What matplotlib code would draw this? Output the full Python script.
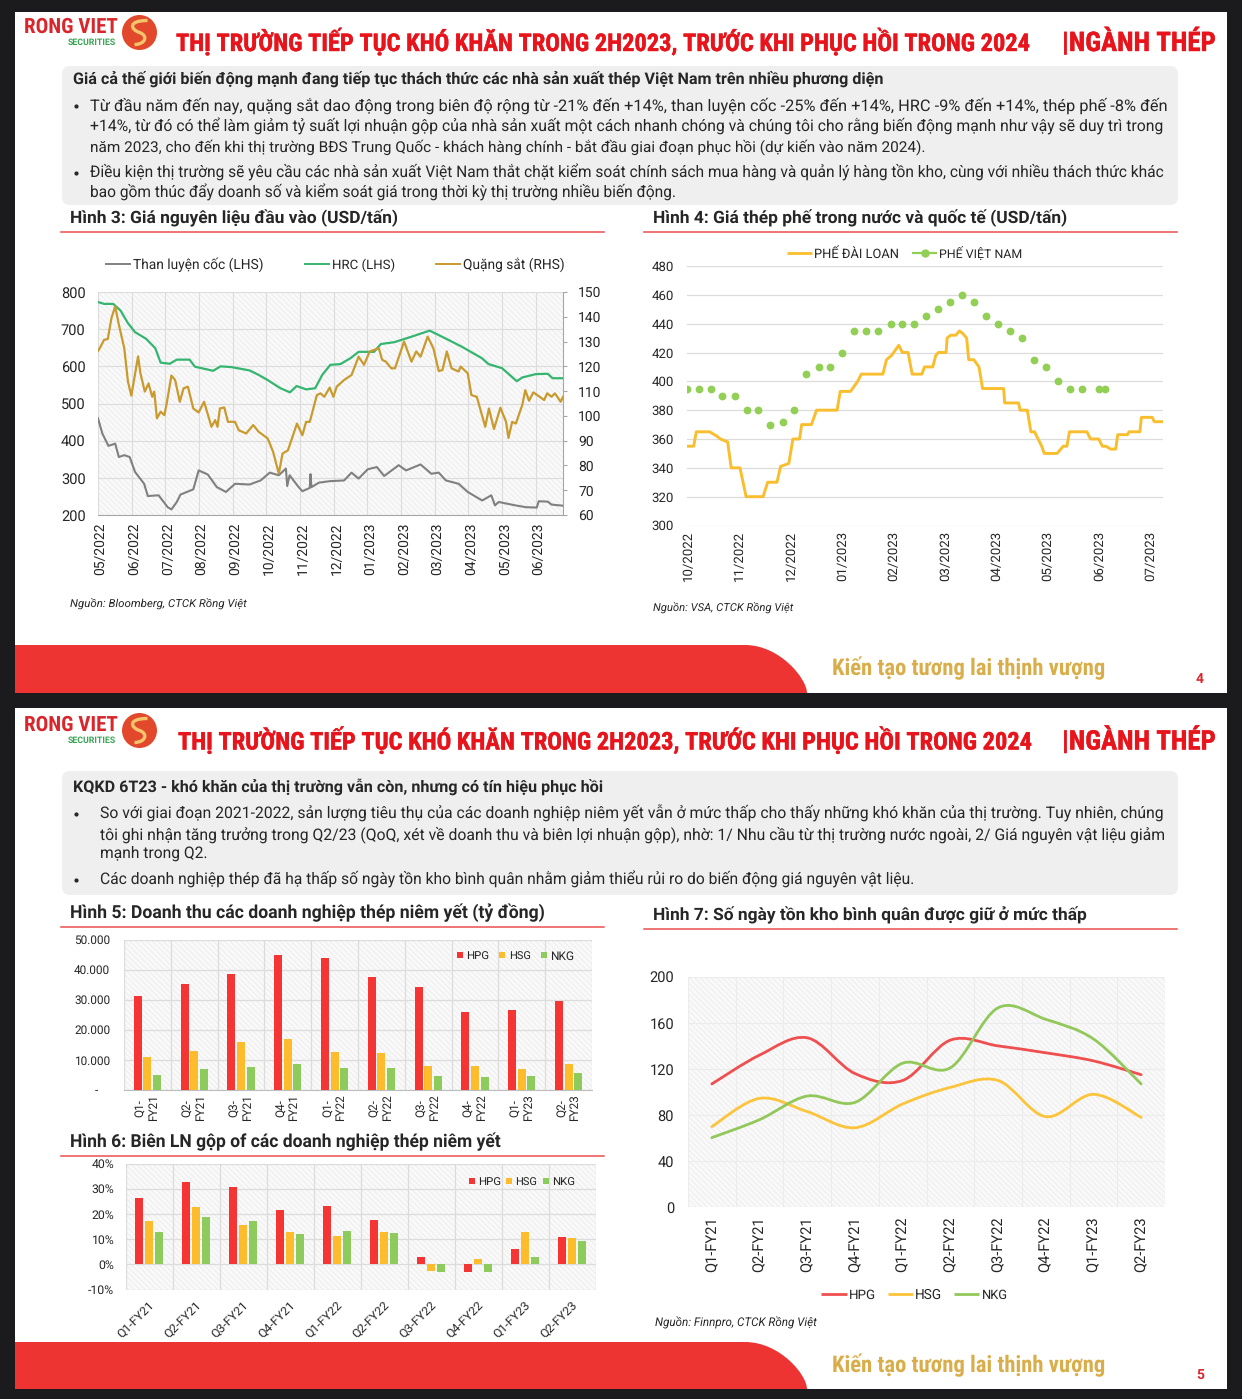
import numpy as np
import matplotlib
matplotlib.use('Agg')
import matplotlib.pyplot as plt
import matplotlib.patheffects as pe
from matplotlib import font_manager
from matplotlib.patches import FancyBboxPatch, PathPatch, Rectangle, Ellipse
from matplotlib.path import Path
from matplotlib.transforms import ScaledTranslation

W, H = 1242, 1399

# --------------------------------------------------------------------------
# Hinh 3 data, x is months after 05/2022
MONTHS_3 = ['05/2022', '06/2022', '07/2022', '08/2022', '09/2022', '10/2022', '11/2022',
            '12/2022', '01/2023', '02/2023', '03/2023', '04/2023', '05/2023', '06/2023']
coal_m = [0, .13, .31, .51, .62, .78, .94, 1.1, 1.37, 1.48, 1.8, 2.07, 2.18, 2.34, 2.45, 2.83,
          2.99, 3.26, 3.53, 3.8, 4.07, 4.5, 4.83, 5.1, 5.37, 5.58, 5.62, 5.69, 5.96, 6.07, 6.29,
          6.31, 6.34, 6.56, 6.88, 7.31, 7.53, 7.74, 8.01, 8.28, 8.5, 8.93, 9.15, 9.58, 9.9,
          10.12, 10.33, 10.71, 10.98, 11.41, 11.68, 11.79, 11.9, 12.39, 12.71, 13.03, 13.09,
          13.36, 13.47, 13.81]
coal_v = [460, 419, 386, 392, 356, 361, 356, 316, 284, 251, 253, 221, 215, 235, 255, 269,
          320, 309, 275, 262, 284, 282, 293, 314, 307, 325, 278, 307, 275, 264, 273,
          310, 275, 287, 291, 293, 314, 298, 323, 329, 305, 334, 320, 336, 311,
          314, 293, 284, 262, 239, 253, 226, 235, 226, 221, 220, 237,
          236, 228, 225]
hrc_m = [0, .18, .45, .67, .89, 1.1, 1.43, 1.7, 1.86, 2.13, 2.34, 2.72, 2.88, 3.42, 3.64, 3.96,
         4.5, 4.77, 5.04, 5.42, 5.7, 5.9, 6.18, 6.45, 6.66, 6.9, 7.2, 7.5, 7.74, 8.2, 8.4, 8.8,
         9.25, 9.85, 10.3, 10.8, 11.4, 11.6, 12.0, 12.44, 12.6, 13.0, 13.36, 13.5, 13.81]
hrc_v = [773, 768, 768, 750, 716, 692, 674, 649, 610, 607, 618, 618, 599, 588, 600, 598,
         589, 577, 563, 541, 530, 547, 538, 541, 577, 604, 606, 622, 639, 639, 660, 665,
         678, 696, 676, 653, 622, 606, 595, 560, 570, 579, 580, 568, 568]
ore_m = [0, .08, .18, .29, .4, .51, .62, .78, .89, .99, 1.07, 1.19, 1.26, 1.39, 1.5, 1.61, 1.67,
         1.75, 1.86, 1.97, 2.04, 2.18, 2.29, 2.43, 2.54, 2.67, 2.83, 2.99, 3.15, 3.37, 3.48, 3.55,
         3.62, 3.75, 3.86, 4.07, 4.18, 4.4, 4.61, 4.77, 5.04, 5.2, 5.37, 5.48, 5.64, 5.91, 6.07,
         6.18, 6.29, 6.5, 6.61, 6.72, 6.88, 6.99, 7.09, 7.31, 7.53, 7.74, 7.9, 8.07, 8.34, 8.44,
         8.55, 8.71, 8.82, 9.09, 9.31, 9.45, 9.58, 9.79, 9.96, 10.12, 10.23, 10.36, 10.5, 10.71,
         10.77, 10.98, 11.09, 11.25, 11.5, 11.61, 11.76, 11.95, 12.12, 12.19, 12.3, 12.41, 12.6,
         12.69, 12.8, 12.93, 13.25, 13.34, 13.47, 13.57, 13.74, 13.81]
ore_v = [126.2, 128, 130.7, 131, 139.5, 144.2, 136.8, 127.3, 113.8, 108.2, 114.5, 124, 117.2, 109.8,
         113.1, 107.7, 109.8, 99, 101.7, 100.3, 105, 116.3, 114.5, 105.7, 111.1, 111.8, 103, 101.4,
         105.7, 95.6, 98.3, 95.6, 103, 103.4, 97.6, 97.6, 94.2, 92.9, 96.3, 93.6, 90.9, 85.5, 76.7,
         84.8, 86.1, 96.9, 92.2, 97.6, 97.6, 108.4, 109.1, 107.7, 111.4, 107.7, 111.8, 114.5, 116.5,
         123.9, 120.6, 126, 127.3, 122.6, 121.9, 119.2, 119.2, 130, 121.9, 126, 123.9, 132, 127.3,
         118.1, 118.5, 126, 119.2, 117.9, 119.9, 117.2, 108.4, 107.7, 95.6, 103, 94.7, 103.3, 97.6,
         91.1, 97.6, 96.9, 104.4, 110.4, 106.1, 109.5, 106.4, 109.1, 107.7, 109.1, 105.7, 107.7]

# Hinh 4 data, x is months after 10/2022
MONTHS_4 = ['10/2022', '11/2022', '12/2022', '01/2023', '02/2023', '03/2023', '04/2023',
            '05/2023', '06/2023', '07/2023']
tw_m = [0, .14, .19, .45, .59, .66, .8, .87, 1.04, 1.16, 1.49, 1.58, 1.76, 1.83, 1.99, 2.07, 2.2,
        2.24, 2.43, 2.48, 2.53, 2.93, 2.99, 3.19, 3.33, 3.4, 3.82, 3.89, 3.99, 4.13, 4.2, 4.31,
        4.39, 4.58, 4.63, 4.79, 4.85, 4.9, 5.05, 5.07, 5.14, 5.24, 5.31, 5.38, 5.45, 5.49, 5.59,
        5.69, 5.76, 6.17, 6.19, 6.46, 6.49, 6.63, 6.7, 6.77, 6.91, 6.96, 7.21, 7.33, 7.4, 7.45,
        7.79, 7.86, 8.02, 8.09, 8.16, 8.25, 8.35, 8.39, 8.58, 8.61, 8.82, 8.85, 9.06, 9.1, 9.27]
tw_v = [355, 355, 365, 365, 362, 360, 358, 340, 340, 320, 320, 330, 330, 341, 343, 360, 360,
        370, 370, 375, 380, 380, 393, 393, 400, 405, 405, 415, 418, 425, 420, 420,
        405, 405, 410, 410, 418, 420, 420, 430, 432, 432, 435, 433, 430, 415, 415,
        410, 395, 395, 385, 385, 380, 380, 365, 365, 355, 350, 350, 355, 355, 365,
        365, 360, 360, 355, 355, 353, 353, 363, 363, 365, 365, 375, 375, 372, 372]
vn_m = [0, .24, .47, .70, .94, 1.17, 1.4, 1.63, 1.87, 2.1, 2.33, 2.57, 2.8, 3.03, 3.26, 3.49, 3.73,
        3.97, 4.2, 4.43, 4.66, 4.9, 5.13, 5.36, 5.6, 5.83, 6.06, 6.29, 6.53, 6.76, 6.99, 7.22,
        7.46, 7.69, 8.02, 8.15]
vn_v = [395, 395, 395, 390, 390, 380, 380, 370, 372, 380, 405, 410, 410, 420, 435, 435, 435,
        440, 440, 440, 445, 450, 455, 460, 455, 445, 440, 435, 430, 415, 410, 400,
        395, 395, 395, 395]

# Hinh 5, 6, 7 data
QUARTERS = ['Q1-FY21', 'Q2-FY21', 'Q3-FY21', 'Q4-FY21', 'Q1-FY22', 'Q2-FY22', 'Q3-FY22',
            'Q4-FY22', 'Q1-FY23', 'Q2-FY23']
rev_hpg = [31200, 35200, 38600, 44700, 44000, 37400, 34100, 25900, 26500, 29500]
rev_hsg = [11000, 13000, 15800, 16900, 12700, 12200, 8100, 8100, 7100, 8700]
rev_nkg = [4900, 7100, 7600, 8800, 7200, 7200, 4500, 4400, 4500, 5600]
gm_hpg = [26.4, 32.8, 30.8, 21.5, 23.1, 17.6, 3, -3.2, 6.2, 10.8]
gm_hsg = [17.3, 22.9, 15.6, 12.7, 11.2, 13, -2.8, 2, 13, 10.3]
gm_nkg = [12.7, 18.8, 17.2, 12, 13.4, 12.6, -3.2, -3.1, 3, 9.1]
inv_hpg = [107, 132, 147, 116, 110, 145, 140, 134, 127, 115]
inv_hsg = [70, 94.5, 83, 69, 89.6, 104, 110, 78.6, 98, 78]
inv_nkg = [60.4, 76, 96.5, 91, 125, 121, 173, 163, 146, 107]

TITLE = 'THỊ TRƯỜNG TIẾP TỤC KHÓ KHĂN TRONG 2H2023, TRƯỚC KHI PHỤC HỒI TRONG 2024'
SLIDE1_HEAD = 'Giá cả thế giới biến động mạnh đang tiếp tục thách thức các nhà sản xuất thép Việt Nam trên nhiều phương diện'
SLIDE1_LINES = [
    'Từ đầu năm đến nay, quặng sắt dao động trong biên độ rộng từ -21% đến +14%, than luyện cốc -25% đến +14%, HRC -9% đến +14%, thép phế -8% đến',
    '+14%, từ đó có thể làm giảm tỷ suất lợi nhuận gộp của nhà sản xuất một cách nhanh chóng và chúng tôi cho rằng biến động mạnh như vậy sẽ duy trì trong',
    'năm 2023, cho đến khi thị trường BĐS Trung Quốc - khách hàng chính - bắt đầu giai đoạn phục hồi (dự kiến vào năm 2024).',
    'Điều kiện thị trường sẽ yêu cầu các nhà sản xuất Việt Nam thắt chặt kiểm soát chính sách mua hàng và quản lý hàng tồn kho, cùng với nhiều thách thức khác',
    'bao gồm thúc đẩy doanh số và kiểm soát giá trong thời kỳ thị trường nhiều biến động.',
]
SLIDE2_HEAD = 'KQKD 6T23 - khó khăn của thị trường vẫn còn, nhưng có tín hiệu phục hồi'
SLIDE2_LINES = [
    'So với giai đoạn 2021-2022, sản lượng tiêu thụ của các doanh nghiệp niêm yết vẫn ở mức thấp cho thấy những khó khăn của thị trường. Tuy nhiên, chúng',
    'tôi ghi nhận tăng trưởng trong Q2/23 (QoQ, xét về doanh thu và biên lợi nhuận gộp), nhờ: 1/ Nhu cầu từ thị trường nước ngoài, 2/ Giá nguyên vật liệu giảm',
    'mạnh trong Q2.',
    'Các doanh nghiệp thép đã hạ thấp số ngày tồn kho bình quân nhằm giảm thiểu rủi ro do biến động giá nguyên vật liệu.',
]

installed = {f.name for f in font_manager.fontManager.ttflist}
BODY_FONT = ['Roboto', 'Noto Sans', 'DejaVu Sans']
NARROW_FONT = [n for n in ('Liberation Sans Narrow', 'Roboto Condensed', 'Noto Sans Condensed',
                           'Open Sans Condensed') if n in installed] + BODY_FONT
plt.rcParams['font.family'] = BODY_FONT
plt.rcParams['hatch.linewidth'] = 0.4
plt.rcParams['text.hinting'] = 'no_hinting'
RED = '#ee3333'
TITLE_RED = '#e8141c'
INK = '#262626'
GRID = '#dcdcdc'
C_HPG = '#f53434'
C_HSG = '#fdbc2c'
C_NKG = '#8ccb5c'

fig = plt.figure(figsize=(W / 100, H / 100), dpi=100, facecolor='#1b1b1d')
page = fig.add_axes([0, 0, 1, 1], zorder=0)
over = fig.add_axes([0, 0, 1, 1], zorder=5)
for a in (page, over):
    a.set_xlim(0, W)
    a.set_ylim(H, 0)
    a.axis('off')
over.patch.set_alpha(0)
renderer = fig.canvas.get_renderer()


def fit_text(x0, x1, y, s, size=10, **kw):
    # scale the font so the line spans x0 to x1 pixels, y is the baseline
    t = over.text(x0, y, s, fontsize=size, va='baseline', ha='left', **kw)
    best_size, best_err = size, 1e9
    for _ in range(8):
        w = t.get_window_extent(renderer).width
        err = abs(w - (x1 - x0))
        if err < best_err:
            best_size, best_err = t.get_fontsize(), err
        t.set_fontsize(t.get_fontsize() * (x1 - x0) / w)
    t.set_fontsize(best_size)
    return t


def chart_ax(x0, y0, x1, y1):
    ax = fig.add_axes([x0 / W, 1 - y1 / H, (x1 - x0) / W, (y1 - y0) / H], zorder=2)
    ax.set_facecolor('#f9f9f9')
    ax.patch.set_hatch('\\\\\\\\\\\\')
    ax.patch.set_edgecolor('#e6e6e6')
    ax.patch.set_linewidth(0)
    ax.tick_params(length=0, labelsize=10, colors=INK)
    for s in ax.spines.values():
        s.set_visible(False)
    ax.set_axisbelow(True)
    return ax


def nudge_xlabels(ax, px):
    # the tick labels sit a little right of their gridlines in the reference
    off = ScaledTranslation(px / 100, 0, fig.dpi_scale_trans)
    for lab in ax.get_xticklabels():
        lab.set_transform(lab.get_transform() + off)


def figure_title(x0, x1, y, rule_x0, rule_x1, rule_y, s):
    fit_text(x0, x1, y, s, size=12, fontweight='bold', color=INK)
    page.plot([rule_x0, rule_x1], [rule_y, rule_y], color='#ea5050', lw=1.1)


def key_line(x0, x1, y, color, x_text0, x_text1, label, lw=1.4, dot=False):
    over.plot([x0, x1], [y, y], color=color, lw=lw, solid_capstyle='butt')
    if dot:
        over.plot([(x0 + x1) / 2], [y], 'o', color=color, ms=5)
    fit_text(x_text0, x_text1, y + 5, label, size=10, color=INK)


def key_box(x0, x1, y, color, x_text0, x_text1, label):
    over.add_patch(Rectangle((x0, y - 3.2), x1 - x0, 6.4, fc=color, ec='none'))
    fit_text(x_text0, x_text1, y + 4.5, label, size=9, color=INK)


def logo(dy):
    fit_text(24, 118, 33 + dy, 'RONG VIET', size=14, fontweight='bold', color='#d8262c',
             family=NARROW_FONT)
    fit_text(68, 116, 45 + dy, 'SECURITIES', size=6, fontweight='bold', color='#3aa655')
    cx, cy = 139.5, 32.5 + dy
    page.add_patch(Ellipse((cx, cy), 35, 35, fc='#e2492c', ec='none'))
    swirl = Path([(cx + 8, cy - 12), (cx - 12, cy - 12), (cx - 9, cy - 3), (cx, cy),
                  (cx + 9, cy + 3), (cx + 6, cy + 12), (cx - 5, cy + 12)],
                 [Path.MOVETO, Path.CURVE4, Path.CURVE4, Path.CURVE4, Path.CURVE4, Path.CURVE4, Path.CURVE4])
    page.add_patch(PathPatch(swirl, fc='none', ec='#f4c56a', lw=2.4))


def slide(top, bottom, band_top, title_x0, title_x1, title_y, page_no, page_y):
    page.add_patch(Rectangle((15, top), 1212, bottom - top, fc='white', ec='none'))
    band = Path([(15, band_top), (745, band_top), (780, band_top), (807, bottom - 14), (807, bottom),
                 (15, bottom), (15, band_top)],
                [Path.MOVETO, Path.LINETO, Path.CURVE4, Path.CURVE4, Path.CURVE4, Path.LINETO, Path.CLOSEPOLY])
    page.add_patch(PathPatch(band, fc=RED, ec='none'))
    thick = [pe.withStroke(linewidth=0.3, foreground=TITLE_RED)]
    fit_text(title_x0, title_x1, title_y, TITLE, size=16, fontweight='bold', color=TITLE_RED,
             family=NARROW_FONT, path_effects=thick)
    fit_text(1062, 1216, title_y, '|NGÀNH THÉP', size=17, fontweight='bold', color=TITLE_RED,
             family=NARROW_FONT, path_effects=thick)
    fit_text(832, 1105, band_top + 30, 'Kiến tạo tương lai thịnh vượng', size=14, fontweight='bold',
             color='#d9ae4a', family=NARROW_FONT)
    over.text(1200, page_y, page_no, fontsize=10, fontweight='bold', color='#d8262c', ha='center', va='center')


def text_box(y0, y1, head, head_x1, head_y, lines, text_x0, spans, ys, bullets):
    page.add_patch(FancyBboxPatch((66, y0 + 4), 1108, y1 - y0 - 8, boxstyle='round,pad=4,rounding_size=8',
                                  fc='#efefef', ec='none'))
    fit_text(73, head_x1, head_y + 5, head, size=11, fontweight='bold', color=INK)
    for s, x1, y in zip(lines, spans, ys):
        fit_text(text_x0, x1, y + 5, s, size=12, color=INK)
    for y in bullets:
        over.plot([75.5], [y], 'o', color=INK, ms=2.0)


def smooth_line(ax, x, y, color, lw=2.0):
    # same smoothing as a spreadsheet line chart, bezier handles through the read values
    x = np.asarray(x, float)
    y = np.asarray(y, float)
    verts = [(x[0], y[0])]
    codes = [Path.MOVETO]
    for i in range(len(x) - 1):
        p0 = i - 1 if i > 0 else i
        p3 = i + 2 if i + 2 < len(x) else i + 1
        verts.append((x[i] + (x[i + 1] - x[p0]) / 6, y[i] + (y[i + 1] - y[p0]) / 6))
        verts.append((x[i + 1] - (x[p3] - x[i]) / 6, y[i + 1] - (y[p3] - y[i]) / 6))
        verts.append((x[i + 1], y[i + 1]))
        codes += [Path.CURVE4, Path.CURVE4, Path.CURVE4]
    ax.add_patch(PathPatch(Path(verts, codes), fc='none', ec=color, lw=lw, capstyle='round'))


def grouped_bars(ax, a, b, c):
    x = np.arange(len(a))
    ax.bar(x - 0.205, a, 0.17, color=C_HPG, zorder=3)
    ax.bar(x, b, 0.17, color=C_HSG, zorder=3)
    ax.bar(x + 0.205, c, 0.17, color=C_NKG, zorder=3)
    ax.set_xlim(-0.5, len(a) - 0.5)
    ax.set_xticks(np.arange(len(a) + 1) - 0.5, minor=True)
    ax.grid(True, which='minor', axis='x', color=GRID, lw=0.9)
    ax.grid(True, which='major', axis='y', color=GRID, lw=0.9)
    ax.tick_params(which='minor', length=0)
    return x


# --------------------------------------------------------------------------
# slide frames and text
slide(12, 693, 645, 176, 1031, 51, '4', 679)
slide(708, 1389, 1342, 178, 1033, 749.5, '5', 1376)
logo(0)
logo(698)

text_box(66, 205, SLIDE1_HEAD, 884, 79, SLIDE1_LINES, 90, [1166, 1166, 927, 1166, 677],
         [106, 127, 147, 173, 193], [106, 173])
text_box(771, 895, SLIDE2_HEAD, 603, 787, SLIDE2_LINES, 100, [1166, 1166, 208, 916],
         [814, 834, 853, 880], [814, 880])

figure_title(70, 398, 223, 61, 604, 232, 'Hình 3: Giá nguyên liệu đầu vào (USD/tấn)')
figure_title(653, 1068, 223, 644, 1177, 232, 'Hình 4: Giá thép phế trong nước và quốc tế (USD/tấn)')
figure_title(70, 545, 918, 61, 604, 927, 'Hình 5: Doanh thu các doanh nghiệp thép niêm yết (tỷ đồng)')
figure_title(70, 500, 1147, 61, 604, 1156, 'Hình 6: Biên LN gộp of các doanh nghiệp thép niêm yết')
figure_title(653, 1087, 920, 644, 1177, 929, 'Hình 7: Số ngày tồn kho bình quân được giữ ở mức thấp')

fit_text(70, 247, 608, 'Nguồn: Bloomberg, CTCK Rồng Việt', size=8, style='italic', color=INK)
fit_text(653, 794, 612, 'Nguồn: VSA, CTCK Rồng Việt', size=8, style='italic', color=INK)
fit_text(655, 816, 1326, 'Nguồn: Finnpro, CTCK Rồng Việt', size=8, style='italic', color=INK)

# --------------------------------------------------------------------------
# Hinh 3
ax3 = chart_ax(98, 292, 563, 515)
ax3.plot(coal_m, coal_v, color='#808080', lw=1.5, zorder=3)
ax3.plot(hrc_m, hrc_v, color='#35b56f', lw=1.6, zorder=3)
ax3.set_xlim(0, 13.81)
ax3.set_ylim(200, 800)
ax3.set_yticks(range(200, 801, 100))
ax3.set_xticks(range(len(MONTHS_3)))
ax3.set_xticklabels(MONTHS_3, rotation=90)
ax3.grid(True, color=GRID, lw=0.8)
ax3.tick_params(axis='y', pad=9, labelsize=10.5)
ax3.tick_params(axis='x', pad=5.5)
nudge_xlabels(ax3, 2)
ax3.spines['bottom'].set_visible(True)
ax3.spines['bottom'].set_color('#a6a6a6')
ax3r = ax3.twinx()
ax3r.set_zorder(3)
ax3r.plot(ore_m, ore_v, color='#c99a2e', lw=1.6)
ax3r.set_ylim(60, 150)
ax3r.set_yticks(range(60, 151, 10))
ax3r.tick_params(axis='y', labelsize=10, length=3, color='#a6a6a6', labelcolor=INK, pad=8)
for s in ('top', 'left', 'bottom'):
    ax3r.spines[s].set_visible(False)
ax3r.spines['right'].set_color('#a6a6a6')
key_line(105, 131, 264, '#808080', 133, 264, 'Than luyện cốc (LHS)')
key_line(304, 330, 264, '#35b56f', 332, 395, 'HRC (LHS)')
key_line(435, 461, 264, '#c99a2e', 463, 565, 'Quặng sắt (RHS)')

# Hinh 4
ax4 = fig.add_axes([686.5 / W, 1 - 525.5 / H, (1163 - 686.5) / W, (525.5 - 266) / H], zorder=2)
ax4.plot(tw_m, tw_v, color='#f9be2d', lw=2.1, zorder=3)
ax4.plot(vn_m, vn_v, 'o', color='#92cf55', ms=4.6, zorder=3)
ax4.set_xlim(0, 9.27)
ax4.set_ylim(300, 480)
ax4.set_yticks(range(300, 481, 20))
ax4.set_xticks(range(len(MONTHS_4)))
ax4.set_xticklabels(MONTHS_4, rotation=90)
ax4.grid(True, axis='y', color=GRID, lw=0.9)
ax4.set_axisbelow(True)
ax4.tick_params(length=0, labelsize=9.5, colors=INK)
ax4.tick_params(axis='y', pad=9)
ax4.tick_params(axis='x', pad=4)
nudge_xlabels(ax4, 2)
for s in ax4.spines.values():
    s.set_visible(False)
key_line(787, 812, 253, '#f9be2d', 814, 899, 'PHẾ ĐÀI LOAN', lw=2.0)
key_line(912, 937, 253, '#92cf55', 939, 1022, 'PHẾ VIỆT NAM', lw=1.6, dot=True)

# Hinh 5
ax5 = chart_ax(124, 939.5, 592, 1090)
x5 = grouped_bars(ax5, rev_hpg, rev_hsg, rev_nkg)
ax5.set_ylim(0, 50000)
ax5.set_yticks(range(0, 50001, 10000))
ax5.set_yticklabels(['-    ', '10.000', '20.000', '30.000', '40.000', '50.000'])
ax5.set_xticks(x5)
ax5.set_xticklabels([q.replace('-', '-\n') for q in QUARTERS], rotation=90, linespacing=1.15)
ax5.tick_params(axis='both', which='major', labelsize=8.5)
ax5.tick_params(axis='y', pad=10)
ax5.tick_params(axis='x', pad=3)
ax5.spines['bottom'].set_visible(True)
ax5.spines['bottom'].set_color('#bdbdbd')
key_box(456.5, 463, 955, C_HPG, 466, 489, 'HPG')
key_box(499, 505, 955, C_HSG, 509, 531, 'HSG')
key_box(541, 547, 955, C_NKG, 550, 574, 'NKG')

# Hinh 6
ax6 = chart_ax(125.5, 1163.5, 595.5, 1289.5)
x6 = grouped_bars(ax6, gm_hpg, gm_hsg, gm_nkg)
ax6.set_ylim(-10, 40)
ax6.set_yticks(range(-10, 41, 10))
ax6.set_yticklabels([f'{v}%' for v in range(-10, 41, 10)])
ax6.set_xticks(x6)
ax6.set_xticklabels(QUARTERS, rotation=45, ha='right', rotation_mode='anchor')
ax6.tick_params(axis='both', which='major', labelsize=8.8)
ax6.tick_params(axis='y', pad=8)
ax6.tick_params(axis='x', pad=7.5)
key_box(469, 475, 1181, C_HPG, 478, 501, 'HPG')
key_box(506, 512, 1181, C_HSG, 515, 537, 'HSG')
key_box(543, 549, 1181, C_NKG, 552, 575, 'NKG')

# Hinh 7
ax7 = chart_ax(688, 976.7, 1165, 1207.3)
x7 = np.arange(len(QUARTERS))
smooth_line(ax7, x7, inv_hpg, '#ef4f4f')
smooth_line(ax7, x7, inv_hsg, '#fcc43a')
smooth_line(ax7, x7, inv_nkg, '#92c85a')
ax7.set_xlim(-0.5, 9.5)
ax7.set_ylim(0, 200)
ax7.set_yticks(range(0, 201, 40))
ax7.set_xticks(x7)
ax7.set_xticklabels(QUARTERS, rotation=90)
ax7.set_xticks(np.arange(11) - 0.5, minor=True)
ax7.grid(True, which='minor', axis='x', color='#ececec', lw=0.8)
ax7.grid(True, which='major', axis='y', color='#ececec', lw=0.8)
ax7.tick_params(which='minor', length=0)
ax7.tick_params(axis='both', which='major', labelsize=10.5)
ax7.tick_params(axis='y', pad=10)
ax7.tick_params(axis='x', pad=6.5)
key_line(821, 847, 1294, '#ef4f4f', 849, 876, 'HPG', lw=2.0)
key_line(887.5, 913, 1294, '#fcc43a', 915, 942, 'HSG', lw=2.0)
key_line(954, 979, 1294, '#92c85a', 982, 1008, 'NKG', lw=2.0)

over.set_xlim(0, W)
over.set_ylim(H, 0)
page.set_xlim(0, W)
page.set_ylim(H, 0)
fig.savefig('out.png', dpi=100, facecolor=fig.get_facecolor())
plt.close(fig)
